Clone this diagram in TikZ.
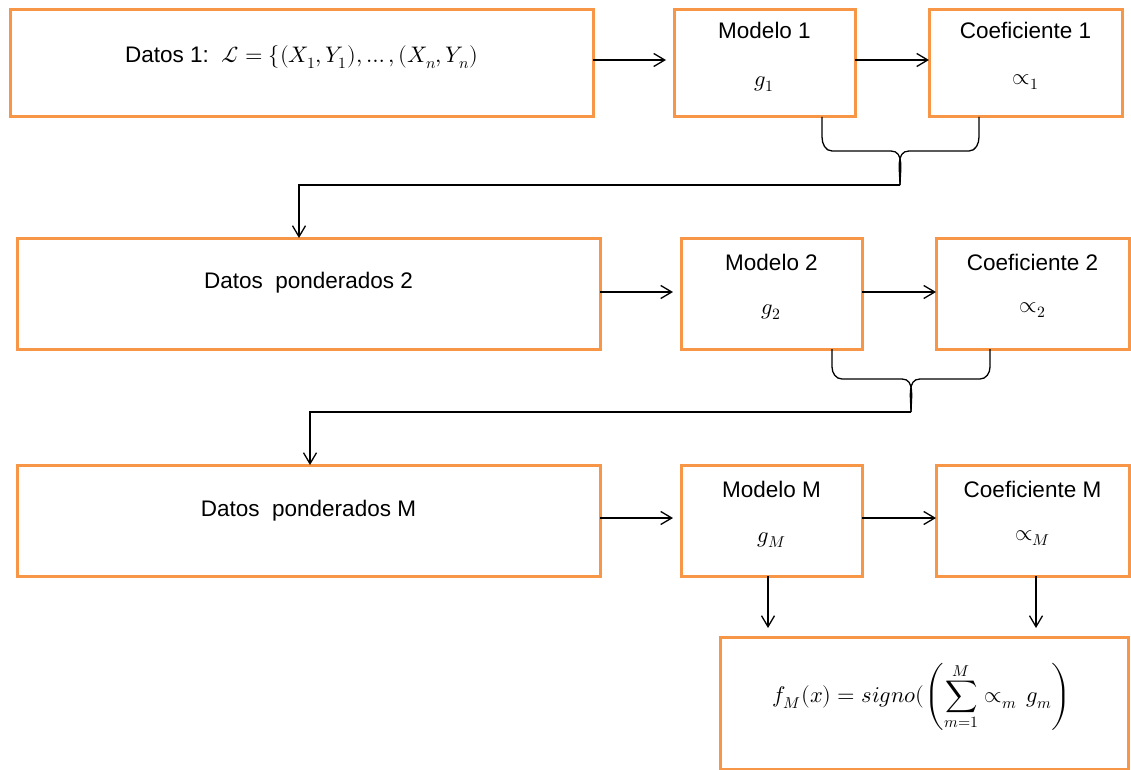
\documentclass[tikz,border=0pt]{standalone}
\usepackage{amsmath}
\usepackage{fontspec}
\usepackage{unicode-math}
\setmainfont{Liberation Sans}
\setmathfont{Latin Modern Math}
\usetikzlibrary{arrows.meta}
\definecolor{boxorange}{HTML}{F79646}
\begin{document}
\begin{tikzpicture}[x=1pt,y=-1pt,
  box/.style={draw=boxorange,line width=3pt,rectangle,inner sep=0pt,outer sep=0pt,fill=white},
  lbl/.style={inner sep=0pt,font=\fontsize{22.5}{27}\selectfont},
  arr/.style={line width=1.3pt,-{Straight Barb[length=11pt,width=13pt,line width=1.3pt]}},
  ln/.style={line width=1.3pt}]
\useasboundingbox (0,0) rectangle (1131,770);
% row 1
\node[box,minimum width=583pt,minimum height=107pt] (d1) at (301.5,63.5) {};
\node[box,minimum width=181pt,minimum height=107pt] (m1) at (764.5,63.5) {};
\node[box,minimum width=193pt,minimum height=107pt] (c1) at (1025.5,63.5) {};
\node[lbl] (d1t) at (301.5,57) {Datos 1:\ \ $\mathcal{L}=\{(X_1,Y_1),\dots,(X_n,Y_n)$};
\node[lbl] (m1t) at (764.5,30) {Modelo 1};
\node[lbl] (m1g) at (764.5,84) {$g_1$};
\node[lbl] (c1t) at (1025.5,30) {Coeficiente 1};
\node[lbl] (c1g) at (1025.5,82) {$\propto_1$};
% row 2
\node[box,minimum width=583pt,minimum height=111pt] (d2) at (308.5,293.5) {};
\node[box,minimum width=181pt,minimum height=111pt] (m2) at (771.5,293.5) {};
\node[box,minimum width=193pt,minimum height=111pt] (c2) at (1032.5,293.5) {};
\node[lbl] (d2t) at (308.5,283) {Datos\ \ ponderados 2};
\node[lbl] (m2t) at (771.5,262) {Modelo 2};
\node[lbl] (m2g) at (771.5,312) {$g_2$};
\node[lbl] (c2t) at (1032.5,262) {Coeficiente 2};
\node[lbl] (c2g) at (1032.5,310) {$\propto_2$};
% row 3
\node[box,minimum width=583pt,minimum height=111pt] (d3) at (308.5,520.5) {};
\node[box,minimum width=181pt,minimum height=111pt] (m3) at (771.5,520.5) {};
\node[box,minimum width=193pt,minimum height=111pt] (c3) at (1032.5,520.5) {};
\node[lbl] (d3t) at (308.5,511) {Datos\ \ ponderados M};
\node[lbl] (m3t) at (771.5,489) {Modelo M};
\node[lbl] (m3g) at (771.5,540) {$g_M$};
\node[lbl] (c3t) at (1032.5,489) {Coeficiente M};
\node[lbl] (c3g) at (1032.5,538) {$\propto_M$};
% final
\node[box,minimum width=408pt,minimum height=132pt] (f) at (924,703) {};
\node[lbl] (ft) at (922,697) {$f_M(x)=signo(\displaystyle\left(\sum_{m=1}^{M}\propto_m\,g_m\right)$};
% horizontal arrows
\draw[arr,shorten >=8pt] ([yshift=3.5pt]d1.east) -- ([yshift=3.5pt]m1.west);
\draw[arr] ([yshift=3.5pt]m1.east) -- ([yshift=3.5pt]c1.west);
\draw[arr,shorten >=8pt] ([yshift=1.5pt]d2.east) -- ([yshift=1.5pt]m2.west);
\draw[arr] ([yshift=1.5pt]m2.east) -- ([yshift=1.5pt]c2.west);
\draw[arr,shorten >=8pt] ([yshift=2.5pt]d3.east) -- ([yshift=2.5pt]m3.west);
\draw[arr] ([yshift=2.5pt]m3.east) -- ([yshift=2.5pt]c3.west);
% brace 1
\coordinate (b1l) at (822,117);
\coordinate (b1r) at (979,117);
\coordinate (b1t) at (900,185);
\draw[ln] (b1l) -- ++(0,20) to[out=-90,in=180] (832,151) -- (891,151) to[out=0,in=90] (b1t);
\draw[ln] (b1r) -- ++(0,20) to[out=-90,in=0] (969,151) -- (909,151) to[out=180,in=90] (b1t);
\draw[arr] (b1t) -- (299,185) -- (299,238);
% brace 2
\coordinate (b2l) at (832,349);
\coordinate (b2r) at (990,349);
\coordinate (b2t) at (911,412);
\draw[ln] (b2l) -- ++(0,18) to[out=-90,in=180] (842,379) -- (902,379) to[out=0,in=90] (b2t);
\draw[ln] (b2r) -- ++(0,18) to[out=-90,in=0] (980,379) -- (920,379) to[out=180,in=90] (b2t);
\draw[arr] (b2t) -- (310,412) -- (310,465);
% down arrows
\draw[arr] (m3.south -| 768,0) -- (768,628);
\draw[arr] (c3.south -| 1036,0) -- (1036,628);
\end{tikzpicture}
\end{document}
